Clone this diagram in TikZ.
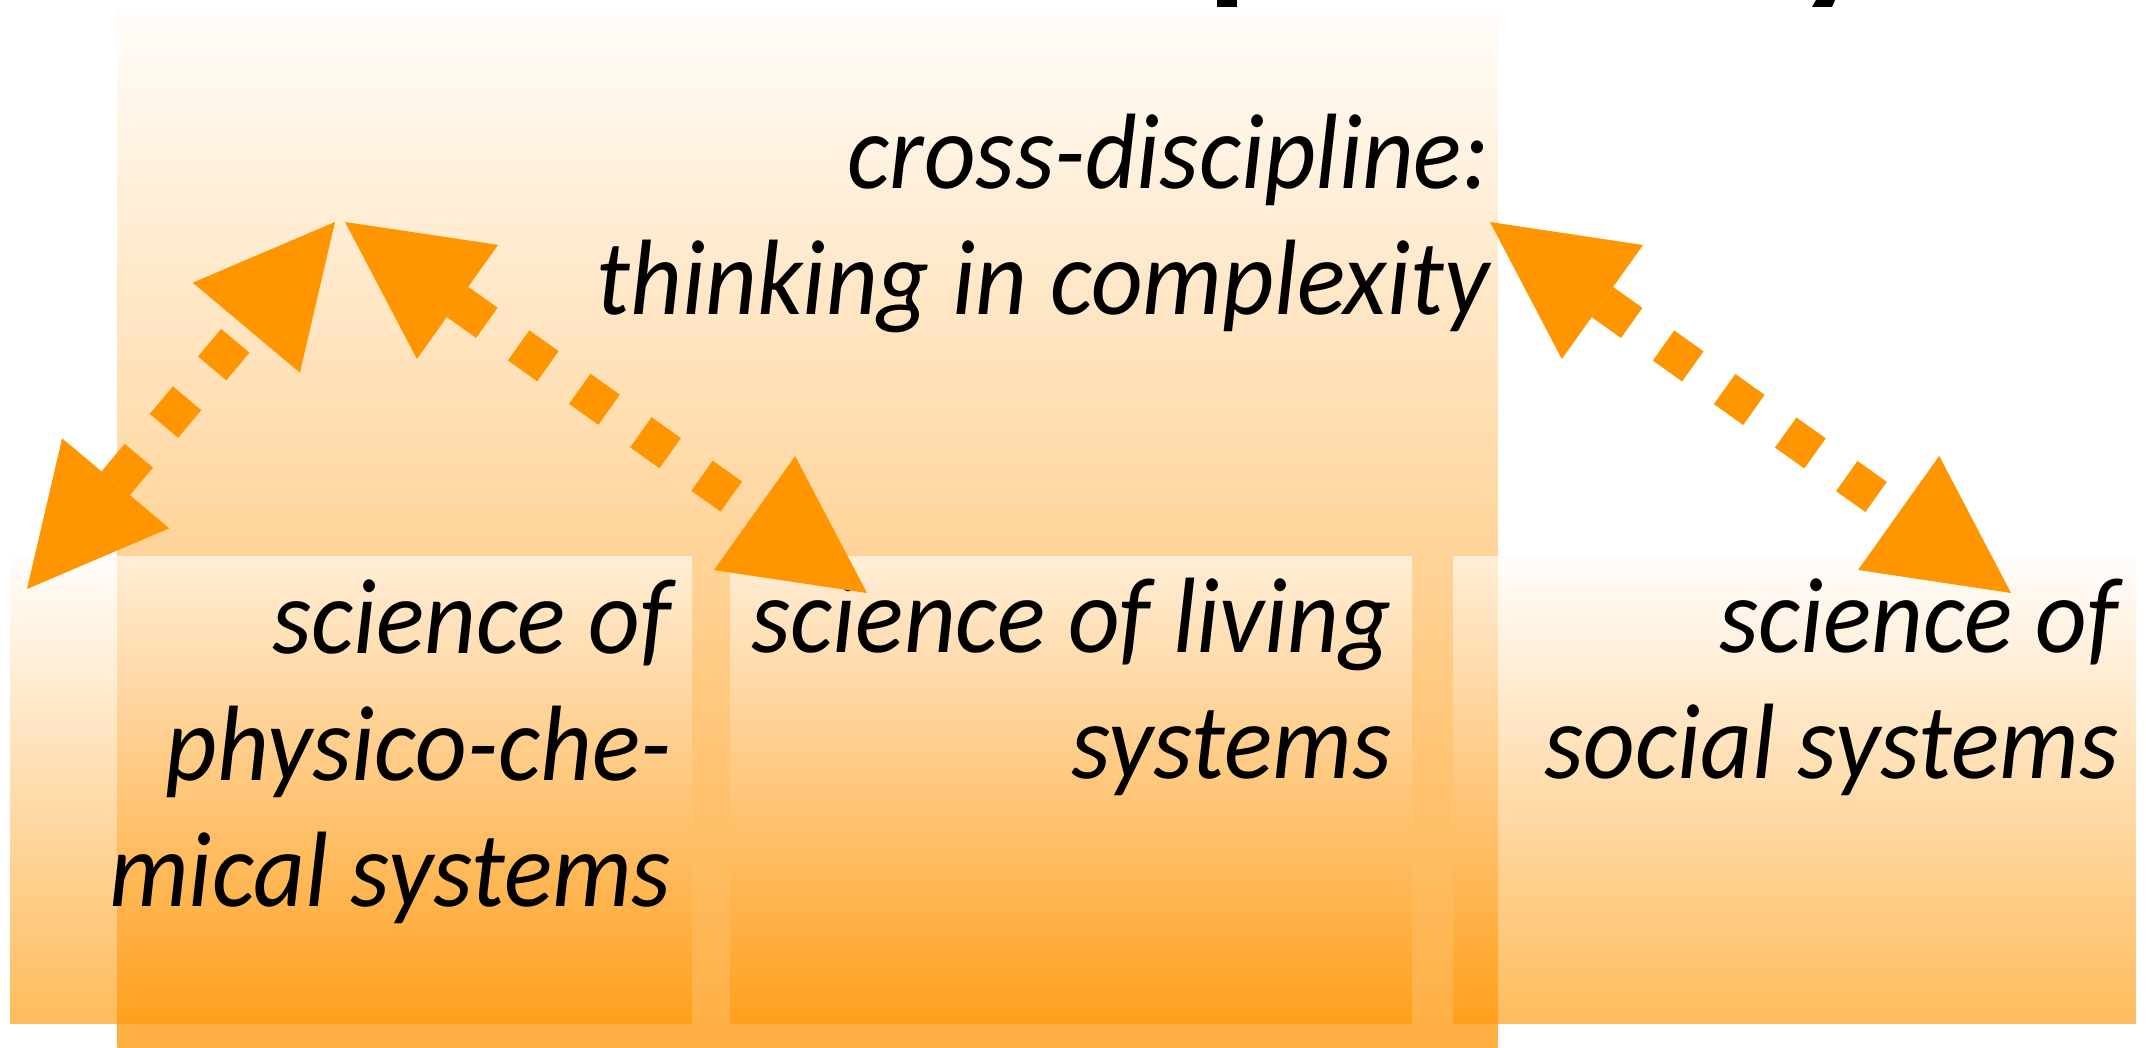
\documentclass[tikz,border=0pt]{standalone}
\usepackage{fontspec}
\setmainfont{Carlito}[FakeStretch=0.94]
\usetikzlibrary{arrows.meta}
\definecolor{arroworange}{RGB}{255,150,0}
\definecolor{boxtop}{RGB}{255,252,249}
\definecolor{boxbot}{RGB}{255,152,8}
\definecolor{bigtop}{RGB}{255,253,250}
\definecolor{bigbot}{RGB}{255,174,64}
\tikzset{
  bigbox/.style={rectangle, inner sep=0pt, anchor=north west, draw=none,
    top color=bigtop, bottom color=bigbot,
    minimum width=138mm, minimum height=104mm},
  smallbox/.style={rectangle, inner sep=0pt, anchor=north west, draw=none,
    top color=boxtop, bottom color=boxbot, fill opacity=0.66,
    minimum width=68.1mm, minimum height=46.7mm},
  lbl/.style={inner sep=0pt, align=right, anchor=base east,
    font=\fontsize{30.5}{36.1}\selectfont\itshape},
  dblarrow/.style={draw=arroworange, line width=3.7mm,
    dash pattern=on 3.6mm off 3.9mm,
    {Triangle[length=13.8mm,width=14mm,line width=0pt]}-{Triangle[length=13.8mm,width=14mm,line width=0pt]}}
}
\begin{document}
\begin{tikzpicture}[x=0.1mm,y=-0.1mm]
\useasboundingbox (0,0) rectangle (2146,1048);
% cut-off title descenders
\fill[black] (1217,0) rectangle (1237,7);
\fill[black] (1816,0) -- (1835,0) -- (1832,7) -- (1812,7) -- cycle;
% boxes
\node[bigbox] (cross) at (117,8) {};
\node[smallbox] (phys) at (10,556) {};
\node[smallbox] (living) at (730,556) {};
\node[smallbox, minimum width=68.2mm] (social) at (1453,556) {};
% texts (anchor = baseline of the last line)
\node[lbl] (crosst) at (1490,315) {cross-discipline:\\thinking in complexity};
\node[lbl] (physt) at (672,907) {science of\\physico-che-\\mical systems};
\node[lbl] (livingt) at (1392,779) {science of living\\systems};
\node[lbl] (socialt) at (2119,779) {science of\\social systems};
% arrow end points
\coordinate (a1) at (27,589);
\coordinate (a2) at (335,222);
\coordinate (b1) at (345,222);
\coordinate (b2) at (867,593);
\coordinate (c1) at (1490,222);
\coordinate (c2) at (2011,593);
\draw[dblarrow] (a1) -- (a2);
\draw[dblarrow] (b1) -- (b2);
\draw[dblarrow] (c1) -- (c2);
\end{tikzpicture}
\end{document}
